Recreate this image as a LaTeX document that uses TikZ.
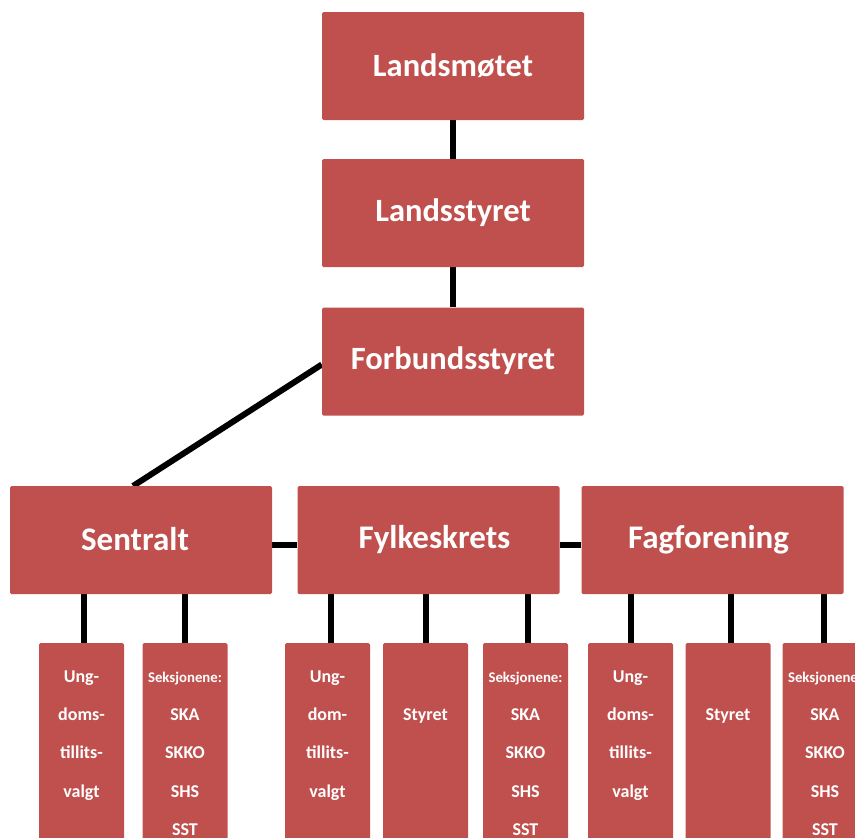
\documentclass[tikz,border=0pt]{standalone}
\usepackage{fontspec}
\setmainfont{Carlito}
\usetikzlibrary{backgrounds}
\definecolor{boxred}{HTML}{C0504D}
\tikzset{
  box/.style={fill=boxred, rounded corners=1.5pt, inner sep=0pt, text=white},
  topbox/.style={box, minimum width=262pt, minimum height=108pt, font=\fontsize{32.5}{38}\selectfont\bfseries},
  midbox/.style={box, minimum width=262pt, minimum height=108pt, font=\fontsize{33}{38}\selectfont\bfseries},
  smallbox/.style={box, minimum width=85pt, minimum height=220pt, anchor=north},
  lbl/.style={text=white, inner sep=0pt, anchor=north, text width=85pt, align=center, font=\fontsize{18}{38.3}\selectfont\bfseries},
  con/.style={line width=6pt, black},
}
\newcommand{\firststrut}{\rule{0pt}{13pt}}
\begin{document}
\begin{tikzpicture}[x=1pt,y=-1pt]
\useasboundingbox (0,0) rectangle (855,838);
\clip (0,0) rectangle (855,838);
% top column
\node[topbox] (lm) at (453,66) {\raisebox{2pt}{Landsmøtet}};
\node[topbox] (ls) at (453,213) {\raisebox{2pt}{Landsstyret}};
\node[topbox] (fs) at (453,361.5) {\raisebox{7pt}{Forbundsstyret}};
% middle row
\node[midbox] (se) at (141,540) {\hspace*{-12pt}\raisebox{2pt}{Sentralt}};
\node[midbox] (fy) at (428.5,540) {\hspace*{12pt}Fylkeskrets};
\node[midbox] (fa) at (712.5,540) {\hspace*{-8pt}Fagforening};
% bottom boxes
\node[smallbox] (seu) at (81.5,643) {};
\node[smallbox] (ses) at (185,643) {};
\node[smallbox] (fyu) at (327.5,643) {};
\node[smallbox] (fyst) at (425.5,643) {};
\node[smallbox] (fys) at (525.5,643) {};
\node[smallbox] (fau) at (630.5,643) {};
\node[smallbox] (fast) at (728,643) {};
\node[smallbox] (fas) at (825,643) {};
% bottom texts
\node[lbl] (seut) at (81.5,669) {\firststrut Ung-\\doms-\\tillits-\\valgt};
\node[lbl] (sest) at (185,669) {\firststrut{\fontsize{14.8}{38.3}\selectfont Seksjonene:}\\SKA\\SKKO\\SHS\\SST};
\node[lbl] (fyut) at (327.5,669) {\firststrut Ung-\\dom-\\tillits-\\valgt};
\node[lbl] (fystt) at (425.5,707.7) {\firststrut Styret};
\node[lbl] (fyst2) at (525.5,669) {\firststrut{\fontsize{14.8}{38.3}\selectfont Seksjonene:}\\SKA\\SKKO\\SHS\\SST};
\node[lbl] (faut) at (630.5,669) {\firststrut Ung-\\doms-\\tillits-\\valgt};
\node[lbl] (fastt) at (728,707.7) {\firststrut Styret};
\node[lbl] (fast2) at (825,669) {\firststrut{\fontsize{14.8}{38.3}\selectfont Seksjonene:}\\SKA\\SKKO\\SHS\\SST};
\coordinate (setop) at (133,486);
% connectors
\begin{scope}[on background layer]
\draw[con] (lm.south) -- (ls.north);
\draw[con] (ls.south) -- (fs.north);
\draw[con] ([yshift=-3pt]fs.west) -- (setop);
\draw[con] ([yshift=-5pt]se.east) -- ([yshift=-5pt]fy.west);
\draw[con] ([yshift=-5pt]fy.east) -- ([yshift=-5pt]fa.west);
\draw[con] (seu.north -| 84,0) -- (84,0 |- se.south);
\draw[con] (ses.north) -- (ses.north |- se.south);
\draw[con] (331,0 |- fyu.north) -- (331,0 |- fy.south);
\draw[con] (fyst.north) -- (fyst.north |- fy.south);
\draw[con] (528,0 |- fys.north) -- (528,0 |- fy.south);
\draw[con] (fau.north) -- (fau.north |- fa.south);
\draw[con] (731,0 |- fast.north) -- (731,0 |- fa.south);
\draw[con] (824,0 |- fas.north) -- (824,0 |- fa.south);
\end{scope}
\end{tikzpicture}
\end{document}
